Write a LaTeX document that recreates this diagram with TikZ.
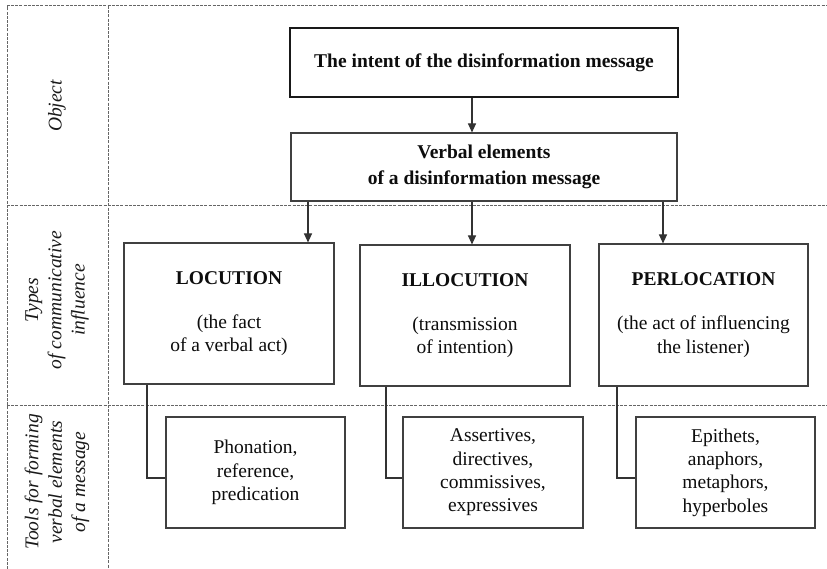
\documentclass[tikz,border=0pt]{standalone}
\usepackage{fontspec}
\setmainfont{Liberation Serif}
\usetikzlibrary{arrows.meta}
\begin{document}
\begin{tikzpicture}[x=1pt,y=-1pt,
 grid/.style={draw=black!60, line width=1pt, dash pattern=on 3pt off 1.2pt},
 box/.style={draw=black!75, line width=1.1pt, rectangle, align=center, text=black!95, inner sep=0pt, font=\fontsize{19.5}{23.3}\selectfont},
 thickbox/.style={box, draw=black!90, line width=2.6pt},
 arr/.style={draw=black!80, line width=1.1pt, -{Triangle[length=9pt,width=8pt]}},
 conn/.style={draw=black!80, line width=1.1pt},
 rot/.style={rotate=90, align=center, font=\fontsize{19.5}{23.3}\selectfont\itshape, text=black!90}]

\useasboundingbox (0,0) rectangle (827,569);
\fill[white] (0,0) rectangle (827,569);

% grid
\draw[grid] (7,569) -- (7,6) -- (827,6);
\draw[grid] (108,6) -- (108,569);
\draw[grid] (7,206) -- (827,206);
\draw[grid] (7,405) -- (827,405);

% row labels
\node[rot] (lobj) at (57,106) {Object};
\node[rot] (ltyp) at (57,300) {Types\\of communicative\\influence};
\node[rot] (ltool) at (57,482) {Tools for forming\\verbal elements\\of a message};

% boxes
\node[thickbox, minimum width=388pt, minimum height=69pt] (intent) at (484,62.5)
  {\bfseries The intent of the disinformation message};
\node[box, minimum width=386pt, minimum height=68pt] (verbal) at (484,167)
  {\bfseries Verbal elements\\[2.7pt]\bfseries of a disinformation message};

\node[box, minimum width=210pt, minimum height=141pt] (loc) at (229,313.5)
  {\bfseries LOCUTION\\[21pt](the fact\\of a verbal act)};
\node[box, minimum width=210pt, minimum height=141pt] (illoc) at (465,315.5)
  {\bfseries ILLOCUTION\\[21pt](transmission\\of intention)};
\node[box, minimum width=209pt, minimum height=142pt] (perl) at (703.5,315)
  {\bfseries PERLOCATION\\[21pt](the act of influencing\\the listener)};

\node[box, minimum width=179pt, minimum height=111pt] (phon) at (255.5,472.5)
  {Phonation,\\reference,\\predication};
\node[box, minimum width=180pt, minimum height=111pt] (assert) at (493,472.5)
  {Assertives,\\directives,\\commissives,\\expressives};
\node[box, minimum width=179pt, minimum height=111pt] (epith) at (725.5,472.5)
  {Epithets,\\anaphors,\\metaphors,\\hyperboles};

% connector coordinates
\coordinate (a0) at (472,0);
\coordinate (a1) at (308,0);
\coordinate (a2) at (472,0);
\coordinate (a3) at (663,0);
\coordinate (c1) at (147,478);
\coordinate (c2) at (386,478);
\coordinate (c3) at (617,478);

% arrows
\draw[arr] (intent.south -| a0) -- (verbal.north -| a0);
\draw[arr] (verbal.south -| a1) -- (loc.north -| a1);
\draw[arr] (verbal.south -| a2) -- (illoc.north -| a2);
\draw[arr] (verbal.south -| a3) -- (perl.north -| a3);

% elbow connectors
\draw[conn] (loc.south -| c1) |- (phon.west |- c1);
\draw[conn] (illoc.south -| c2) |- (assert.west |- c2);
\draw[conn] (perl.south -| c3) |- (epith.west |- c3);
\end{tikzpicture}
\end{document}
